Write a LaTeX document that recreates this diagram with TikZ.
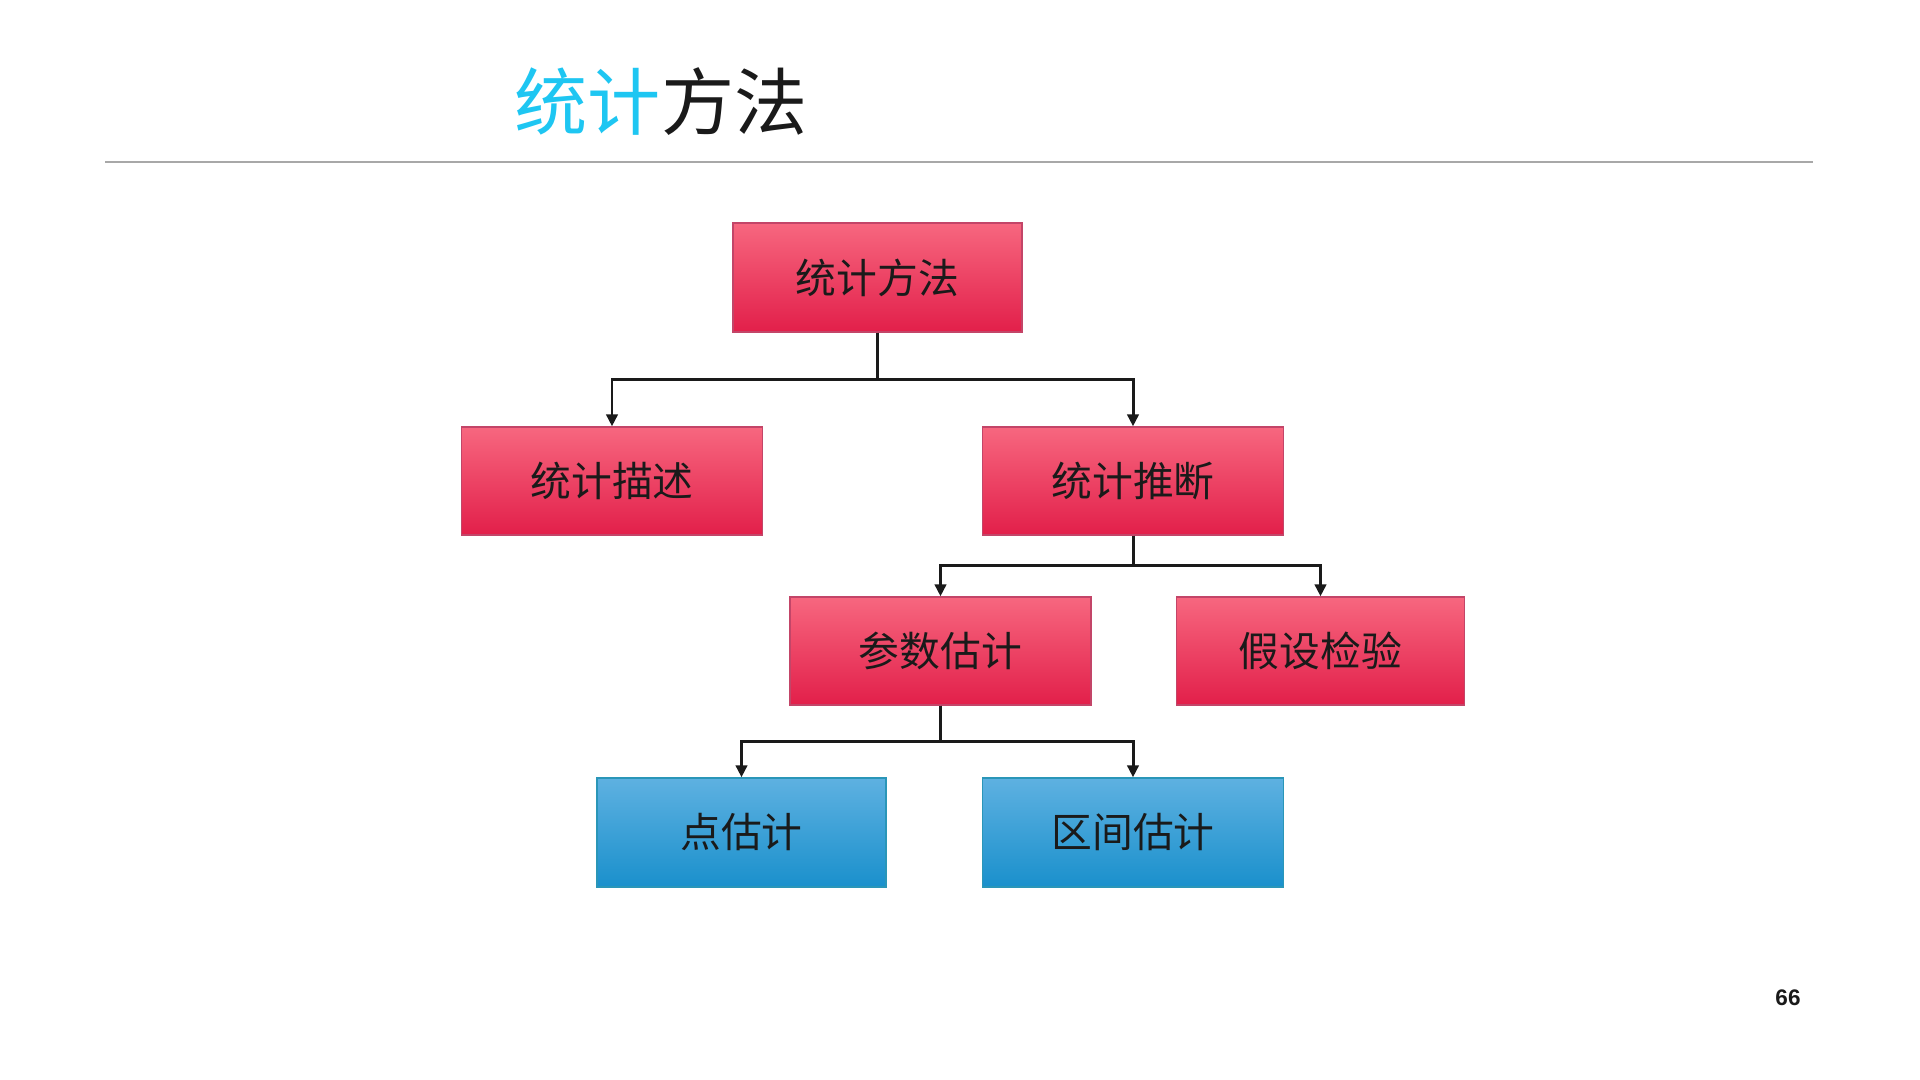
\documentclass[tikz,border=0pt]{standalone}
\usepackage{fontspec}
\setmainfont{Liberation Sans}
\newfontfamily\cjk{Noto Sans CJK SC}
\usetikzlibrary{calc,arrows.meta}

\definecolor{titlecyan}{HTML}{1EC6F2}
\definecolor{inktext}{HTML}{1A1A1A}
\definecolor{rulegray}{HTML}{A8A8A8}
\definecolor{redtop}{HTML}{F7677F}
\definecolor{redmid}{HTML}{EE2852}
\definecolor{redbot}{HTML}{E21F4A}
\definecolor{redline}{HTML}{C34568}
\definecolor{bluetop}{HTML}{5EB1E1}
\definecolor{bluemid}{HTML}{2C9CD8}
\definecolor{bluebot}{HTML}{1A90CC}
\definecolor{blueline}{HTML}{2A96B8}

\tikzset{
  box/.style={rectangle, inner sep=0pt, line width=0.35pt,
    font=\cjk\fontsize{11.6pt}{13pt}\selectfont, text=inktext},
  redbox/.style={box, draw=redline, top color=redtop, middle color=redmid, bottom color=redbot},
  bluebox/.style={box, draw=blueline, top color=bluetop, middle color=bluemid, bottom color=bluebot},
  conn/.style={draw=inktext, line width=0.85pt,
    -{Triangle[length=3.4pt,width=3.2pt]}},
}

\begin{document}
\begin{tikzpicture}[x=0.01cm, y=-0.01cm]
  \useasboundingbox (0,0) rectangle (1920,1080);
  \fill[white] (0,0) rectangle (1920,1080);

  % heading and rule
  \node[anchor=base west, inner sep=0pt, font=\cjk\fontsize{20.8pt}{24pt}\selectfont]
    (title) at (514,130) {\textcolor{titlecyan}{统计}\textcolor{inktext}{方法}};
  \coordinate (ruleL) at (105,162);
  \coordinate (ruleR) at (1813,162);
  \draw[rulegray, line width=0.5pt] (ruleL) -- (ruleR);

  % tree nodes
  \node[redbox, minimum width=82.2pt, minimum height=31pt] (A) at (877.5,277.5) {统计方法};
  \node[redbox, minimum width=85.4pt, minimum height=30.7pt] (B) at (612,481) {统计描述};
  \node[redbox, minimum width=85.4pt, minimum height=30.7pt] (C) at (1133,481) {统计推断};
  \node[redbox, minimum width=85.6pt, minimum height=30.7pt] (D) at (940.5,651) {参数估计};
  \node[redbox, minimum width=82pt, minimum height=30.7pt] (E) at (1320.5,651) {假设检验};
  \node[bluebox, minimum width=82.2pt, minimum height=31pt] (F) at (741.5,832.5) {点估计};
  \node[bluebox, minimum width=85.4pt, minimum height=31pt] (G) at (1133,832.5) {区间估计};

  % elbow connectors
  \foreach \p/\c in {A/B, A/C, C/D, C/E, D/F, D/G} {
    \draw[conn] (\p.south) |- ($(\p.south)!0.5!(\c.north)$) -| (\c.north);
  }

  % page number
  \node[anchor=base, inner sep=0pt, font=\bfseries\fontsize{6.4pt}{7pt}\selectfont, text=inktext]
    (pagenum) at (1788,1006) {66};
\end{tikzpicture}
\end{document}
